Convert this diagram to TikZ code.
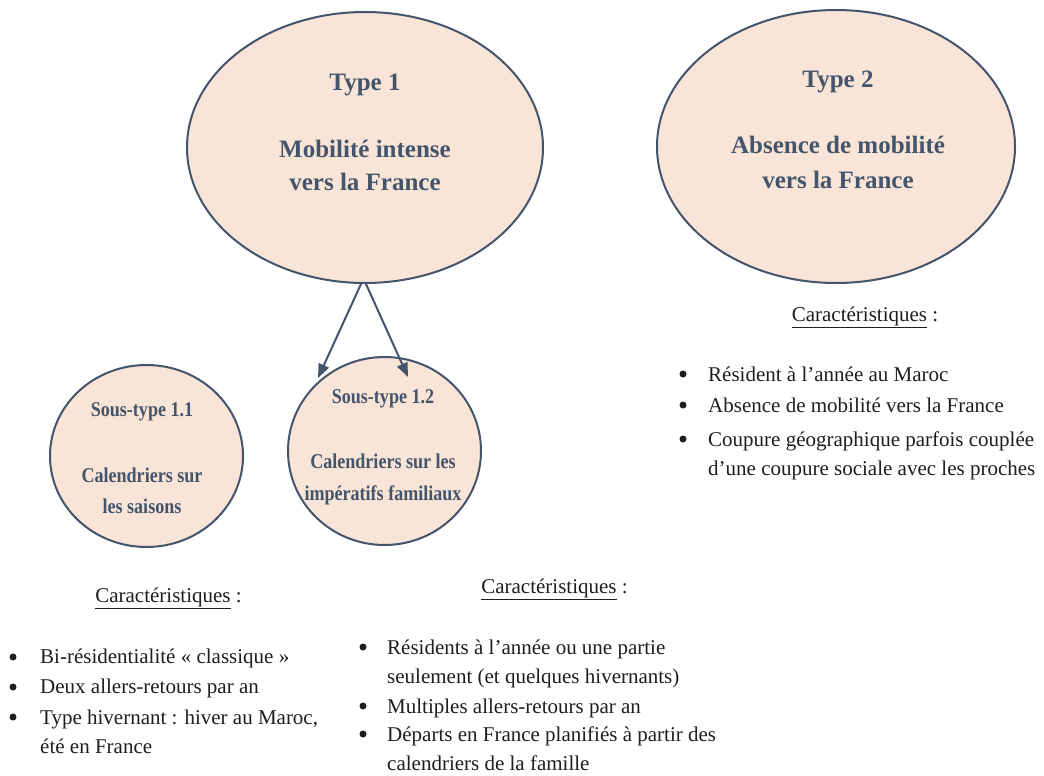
\documentclass[tikz,border=0pt]{standalone}
\usepackage{fontspec}
\setmainfont{Liberation Serif}
\newfontfamily\narrowserif[FakeStretch=0.86]{Liberation Serif}
\usetikzlibrary{shapes.geometric,arrows.meta}

\definecolor{peach}{HTML}{F8E5D7}
\definecolor{slate}{HTML}{44546A}
\definecolor{ink}{HTML}{1E1E1E}

\tikzset{
  typebox/.style={ellipse, draw=slate, line width=2pt, fill=peach, inner sep=0pt},
  typetext/.style={font=\fontsize{25}{34}\selectfont\bfseries, text=slate, anchor=base},
  subtext/.style={font=\narrowserif\fontsize{21}{31}\selectfont\bfseries, text=slate, anchor=base},
  headtext/.style={font=\fontsize{21}{30}\selectfont, text=ink, anchor=base},
  bodytext/.style={font=\fontsize{21}{29}\selectfont, text=ink, align=left, anchor=base west, inner sep=0pt},
  dot/.style={circle, fill=ink, inner sep=0pt, minimum size=7pt},
  link/.style={draw=slate, line width=2pt, -{Triangle[length=14pt,width=11pt]}}
}

\begin{document}
\begin{tikzpicture}[x=1pt,y=-1pt]

\path[fill=white] (0,0) rectangle (1044,776);
\useasboundingbox (0,0) rectangle (1044,776);

% define nodes

% types

\node[typebox, minimum width=356pt, minimum height=271pt] (t1) at (365,147.5) {};
\node[typebox, minimum width=358pt, minimum height=273pt] (t2) at (836,146.5) {};
\node[typetext] (t1a) at (365,90) {Type 1};
\node[typetext] (t1b) at (365,157) {Mobilité intense};
\node[typetext] (t1c) at (365,190) {vers la France};
\node[typetext] (t2a) at (838,88) {Type 2};
\node[typetext] (t2b) at (838,153) {Absence de mobilité};
\node[typetext] (t2c) at (838,188) {vers la France};

% sub-types

\node[typebox, minimum width=193pt, minimum height=182pt] (s11) at (146.5,456) {};
\node[typebox, minimum width=193pt, minimum height=188pt] (s12) at (384.5,451) {};
\node[subtext] (s11a) at (142,416) {Sous-type 1.1};
\node[subtext] (s11b) at (142,482) {Calendriers sur};
\node[subtext] (s11c) at (142,513) {les saisons};
\node[subtext] (s12a) at (383,403) {Sous-type 1.2};
\node[subtext] (s12b) at (383,468) {Calendriers sur les};
\node[subtext] (s12c) at (383,500) {impératifs familiaux};

% characteristics of type 2

\node[headtext] (h2) at (865,321) {\underline{Caractéristiques} :};
\node[dot] (d21) at (683,374) {};
\node[bodytext] (l21) at (708,381) {Résident à l’année au Maroc};
\node[dot] (d22) at (683,405) {};
\node[bodytext] (l22) at (708,412) {Absence de mobilité vers la France};
\node[dot] (d23) at (683,439) {};
\node[bodytext] (l23) at (708,475) {Coupure géographique parfois couplée\\d’une coupure sociale avec les proches};

% characteristics of sub-type 1.1

\node[headtext] (h11) at (168.5,602) {\underline{Caractéristiques} :};
\node[dot] (d111) at (13,657) {};
\node[bodytext] (l111) at (40,663) {Bi-résidentialité « classique »};
\node[dot] (d112) at (13,687) {};
\node[bodytext] (l112) at (40,693) {Deux allers-retours par an};
\node[dot] (d113) at (13,717) {};
\node[bodytext] (l113) at (40,753) {Type hivernant : hiver au Maroc,\\été en France};

% characteristics of sub-type 1.2

\node[headtext] (h12) at (554.5,593) {\underline{Caractéristiques} :};
\node[dot] (d121) at (363,647) {};
\node[bodytext] (l121) at (387,683) {Résidents à l’année ou une partie\\seulement (et quelques hivernants)};
\node[dot] (d122) at (363,706) {};
\node[bodytext] (l122) at (387,713) {Multiples allers-retours par an};
\node[dot] (d123) at (363,734) {};
\node[bodytext] (l123) at (387,770) {Départs en France planifiés à partir des\\calendriers de la famille};

% edges

\coordinate (e11) at (318,378);
\coordinate (e12) at (408,377);
\draw[link] ([xshift=-4pt]t1.south) -- (e11);
\draw[link] ([xshift=1pt]t1.south) -- (e12);

\end{tikzpicture}
\end{document}
